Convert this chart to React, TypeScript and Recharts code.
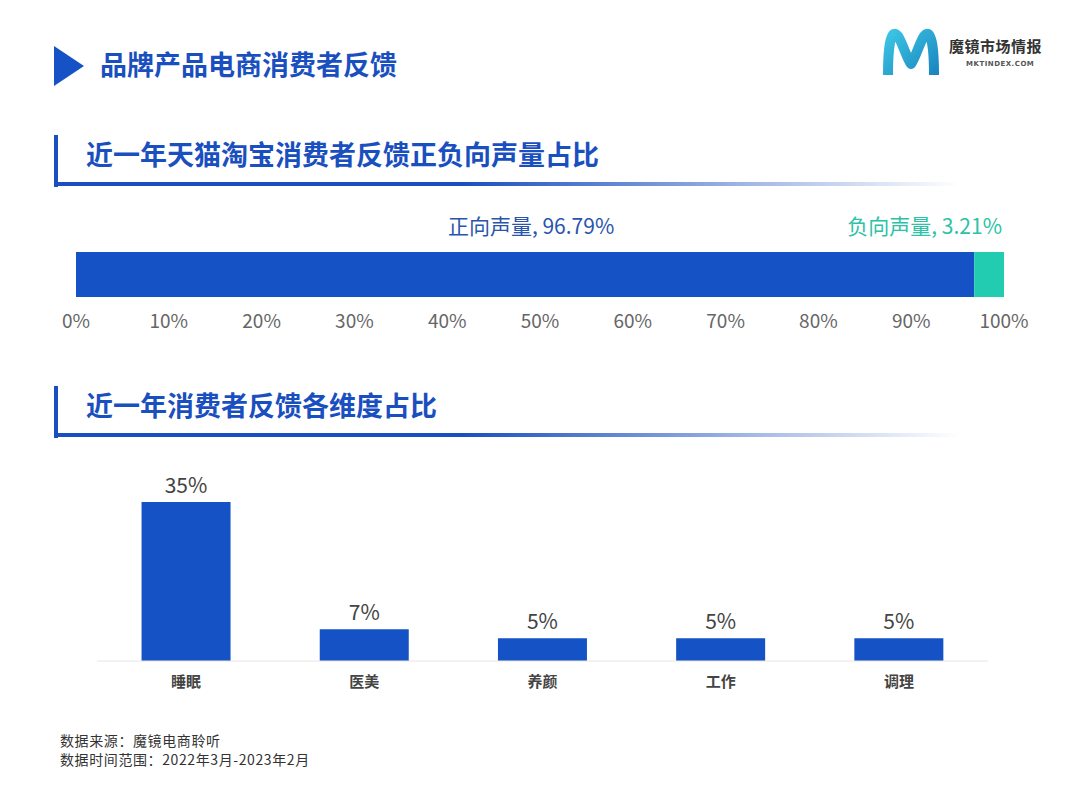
import { BarChart, Bar, XAxis, YAxis, LabelList } from 'recharts'

// ─── data ────────────────────────────────────────────────────────────────

const sentimentLabels = ['正向声量', '负向声量']
const sentimentValues = [96.79, 3.21]
const sentimentTicks  = [0, 10, 20, 30, 40, 50, 60, 70, 80, 90, 100]

const dimensionNames  = ['睡眠', '医美', '养颜', '工作', '调理']
const dimensionValues = [35, 7, 5, 5, 5]

// ─── palette ─────────────────────────────────────────────────────────────

const BLUE     = '#1552c6'
const TEAL     = '#22ccb0'
const HEAD     = '#1a4fbf'
const FONT     = '"Noto Sans CJK SC", "Noto Sans", sans-serif'

const sentimentRow = [{
  name: '声量',
  positive: sentimentValues[0],
  negative: sentimentValues[1],
}]

const dimensionRows = dimensionNames.map((name, i) => ({ name, value: dimensionValues[i] }))

// ─── pieces ──────────────────────────────────────────────────────────────

function SectionHeader({ top, text }: { top: number; text: string }) {
  return (
    <>
      <div style={{ position: 'absolute', left: 54, top, width: 4, height: 52, background: HEAD }} />
      <div
        style={{
          position: 'absolute', left: 54, top: top + 47, width: 906, height: 4,
          background: `linear-gradient(to right, ${HEAD} 0%, ${HEAD} 45%, rgba(26,79,191,0.35) 80%, rgba(26,79,191,0) 100%)`,
        }}
      />
      <div
        style={{
          position: 'absolute', left: 86, top: top + 1, fontSize: 27, fontWeight: 700,
          color: HEAD, lineHeight: '36px', whiteSpace: 'nowrap',
        }}
      >
        {text}
      </div>
    </>
  )
}

function Logo() {
  return (
    <>
      <svg style={{ position: 'absolute', left: 878, top: 26 }} width={66} height={56}>
        <defs>
          <linearGradient id="mGrad" x1="0" y1="0" x2="1" y2="1">
            <stop offset="0%" stopColor="#3cc4e2" />
            <stop offset="100%" stopColor="#1a86c0" />
          </linearGradient>
        </defs>
        <path
          d="M10 49 C10 32 11 10 16 8 C22 6 27 30 33 38 C39 30 44 6 50 8 C55 10 56 32 56 49"
          fill="none" stroke="url(#mGrad)" strokeWidth={10} strokeLinecap="butt" strokeLinejoin="round"
        />
      </svg>
      <div style={{ position: 'absolute', left: 949, top: 35, fontSize: 15, fontWeight: 700, color: '#333', whiteSpace: 'nowrap', lineHeight: '22px', letterSpacing: 0.5 }}>
        魔镜市场情报
      </div>
      <div style={{ position: 'absolute', left: 966, top: 60, fontSize: 7, fontWeight: 700, color: '#555', letterSpacing: 0.5, whiteSpace: 'nowrap', fontFamily: '"DejaVu Sans", sans-serif' }}>
        MKTINDEX.COM
      </div>
    </>
  )
}

function PositiveLabel(props: any) {
  const { x, y, width } = props
  return (
    <text x={x + width / 2 + 6} y={y - 18} textAnchor="middle" fill="#2a55aa" fontSize={21} fontFamily={FONT}>
      {`${sentimentLabels[0]}, ${sentimentValues[0]}%`}
    </text>
  )
}

function NegativeLabel(props: any) {
  const { x, y, width } = props
  return (
    <text x={x + width - 2} y={y - 18} textAnchor="end" fill="#2bc2a6" fontSize={21} fontFamily={FONT}>
      {`${sentimentLabels[1]}, ${sentimentValues[1]}%`}
    </text>
  )
}

// ─── component ───────────────────────────────────────────────────────────

export default function App() {
  return (
    <div style={{ position: 'absolute', left: 0, top: 0, width: 1080, height: 810, background: '#fff', fontFamily: FONT, overflow: 'hidden' }}>
      {/* page title */}
      <svg style={{ position: 'absolute', left: 0, top: 0 }} width={100} height={100}>
        <polygon points="54,46 84,66 54,86" fill={BLUE} />
      </svg>
      <div style={{ position: 'absolute', left: 100, top: 46, fontSize: 27, fontWeight: 700, color: HEAD, lineHeight: '36px', whiteSpace: 'nowrap' }}>
        品牌产品电商消费者反馈
      </div>
      <Logo />

      {/* section 1 */}
      <SectionHeader top={135} text="近一年天猫淘宝消费者反馈正负向声量占比" />
      <div style={{ position: 'absolute', left: 0, top: 192 }}>
        <BarChart
          width={1080}
          height={164}
          data={sentimentRow}
          layout="vertical"
          margin={{ top: 60, right: 76, bottom: 0, left: 76 }}
          barCategoryGap={0}
        >
          <XAxis
            type="number"
            domain={[0, 100]}
            ticks={sentimentTicks}
            tickFormatter={(v: number) => `${v}%`}
            axisLine={false}
            tickLine={false}
            tickMargin={12}
            height={59}
            interval={0}
            tick={{ fill: '#666', fontSize: 19, fontFamily: FONT }}
          />
          <YAxis type="category" dataKey="name" hide />
          <Bar dataKey="positive" stackId="s" fill={BLUE} isAnimationActive={false}>
            <LabelList dataKey="positive" content={<PositiveLabel />} />
          </Bar>
          <Bar dataKey="negative" stackId="s" fill={TEAL} isAnimationActive={false}>
            <LabelList dataKey="negative" content={<NegativeLabel />} />
          </Bar>
        </BarChart>
      </div>

      {/* section 2 */}
      <SectionHeader top={386} text="近一年消费者反馈各维度占比" />
      <div style={{ position: 'absolute', left: 0, top: 460 }}>
        <BarChart
          width={1080}
          height={244}
          data={dimensionRows}
          margin={{ top: 42, right: 92, bottom: 0, left: 97 }}
          barCategoryGap="25%"
        >
          <XAxis
            dataKey="name"
            axisLine={{ stroke: '#e6e6e6' }}
            tickLine={false}
            tickMargin={9}
            height={43}
            interval={0}
            tick={{ fill: '#444', fontSize: 15, fontWeight: 700, fontFamily: FONT }}
          />
          <YAxis domain={[0, 35]} hide />
          <Bar dataKey="value" fill={BLUE} isAnimationActive={false}>
            <LabelList
              dataKey="value"
              position="top"
              offset={9}
              formatter={(v: any) => `${v}%`}
              style={{ fill: '#444', fontSize: 21, fontFamily: FONT }}
            />
          </Bar>
        </BarChart>
      </div>

      {/* footer */}
      <div style={{ position: 'absolute', left: 60, top: 731, fontSize: 14, color: '#333', lineHeight: '19px', whiteSpace: 'nowrap', letterSpacing: 0.6 }}>
        <div>数据来源：魔镜电商聆听</div>
        <div>数据时间范围：2022年3月-2023年2月</div>
      </div>
    </div>
  )
}
